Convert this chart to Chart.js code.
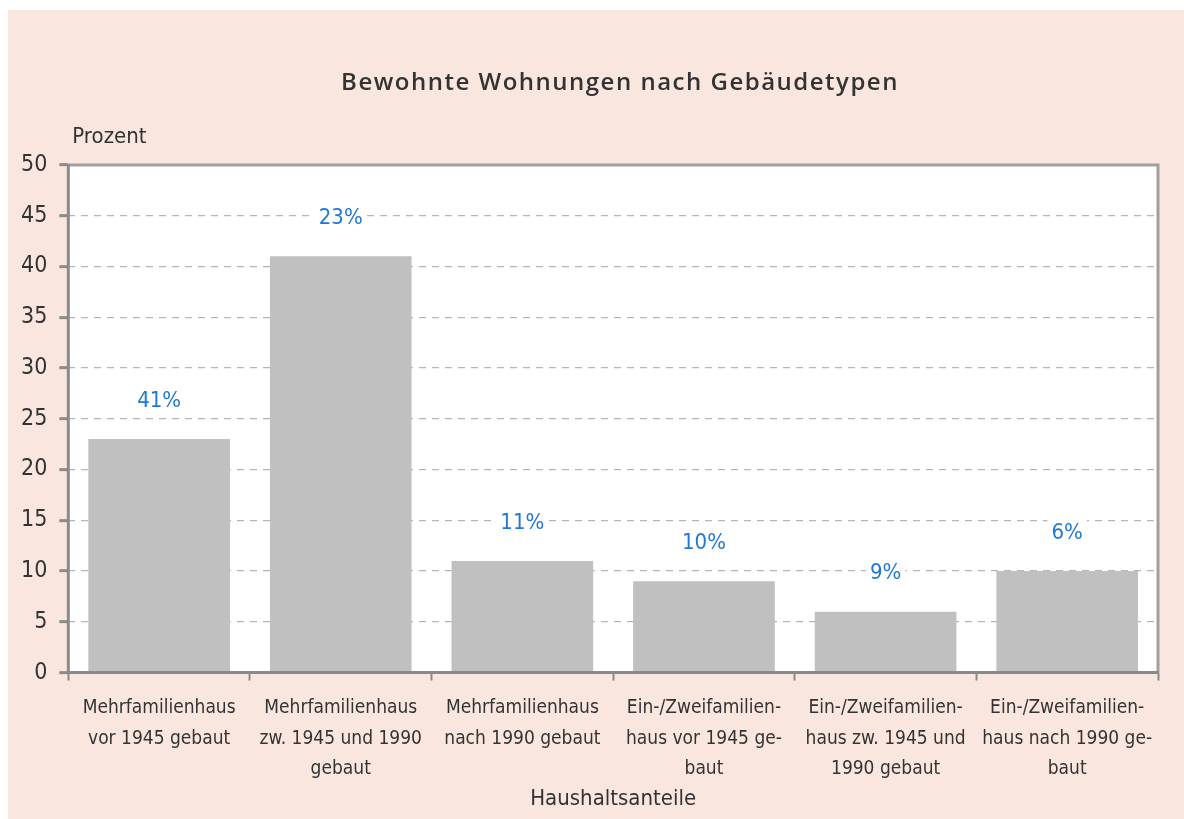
<!DOCTYPE html>
<html>
<head>
<meta charset="utf-8">
<script src="https://cdn.jsdelivr.net/npm/chart.js@4"></script>
<style>
body{margin:0;background:#fff;width:1184px;height:819px;overflow:hidden;position:relative;}
#box{position:absolute;left:8px;top:10px;width:1176px;height:809px;background:#f9e7df;}
canvas{display:block;}
</style>
</head>
<body>
<div id="box"><canvas id="grafico" width="1176" height="809"></canvas></div>
<script>
const titel = "Bewohnte Wohnungen nach Gebäudetypen";
const kategorien = [
["Mehrfamilienhaus","vor 1945 gebaut"],
["Mehrfamilienhaus","zw. 1945 und 1990","gebaut"],
["Mehrfamilienhaus","nach 1990 gebaut"],
["Ein-/Zweifamilien-","haus vor 1945 ge-","baut"],
["Ein-/Zweifamilien-","haus zw. 1945 und","1990 gebaut"],
["Ein-/Zweifamilien-","haus nach 1990 ge-","baut"]
];
const werte = [23, 41, 11, 9, 6, 10];
const beschriftung = ["41%", "23%", "11%", "10%", "9%", "6%"];

const schrift = "'Liberation Sans Narrow', 'DejaVu Sans Condensed', 'Roboto', sans-serif";

// weisser Plotbereich mit Rahmen, Titel
const hintergrund = {
id:"hintergrund",
beforeDraw(chart){
const a = chart.chartArea;
const ctx = chart.ctx;
ctx.save();
ctx.fillStyle = "#ffffff";
ctx.fillRect(a.left, a.top, a.right - a.left, a.bottom - a.top);
ctx.restore();
},
afterDraw(chart){
const a = chart.chartArea;
const ctx = chart.ctx;
ctx.save();
ctx.strokeStyle = "#a0a0a0";
ctx.lineWidth = 3;
ctx.beginPath();
ctx.moveTo(a.left, a.top);
ctx.lineTo(a.right, a.top);
ctx.lineTo(a.right, a.bottom);
ctx.stroke();
ctx.strokeStyle = "#8a8a8a";
ctx.beginPath();
ctx.moveTo(a.left, a.top - 1);
ctx.lineTo(a.left, a.bottom);
ctx.lineTo(a.right + 1, a.bottom);
ctx.stroke();
// Achsentitel oben links
ctx.fillStyle = "#333";
ctx.font = "22px " + schrift;
ctx.textAlign = "left";
ctx.textBaseline = "middle";
ctx.fillText("Prozent", a.left + 4, a.top - 28);
// Titel
ctx.font = "600 24px 'Open Sans', sans-serif";
ctx.letterSpacing = "1.5px";
ctx.textAlign = "center";
ctx.fillText(titel, 612, 73);
ctx.restore();
}
};

// Prozentwerte ueber den Balken
const werteText = {
id:"werteText",
afterDatasetsDraw(chart){
const ctx = chart.ctx;
const meta = chart.getDatasetMeta(0);
ctx.save();
ctx.font = "22px " + schrift;
ctx.textAlign = "center";
ctx.textBaseline = "middle";
meta.data.forEach((bar, i) => {
const y = bar.y - 38;
const w = ctx.measureText(beschriftung[i]).width;
ctx.fillStyle = "#ffffff";
ctx.fillRect(bar.x - w/2 - 4, y - 13, w + 8, 26);
ctx.fillStyle = "#1f78d4";
ctx.fillText(beschriftung[i], bar.x, y);
});
ctx.restore();
}
};

new Chart(document.getElementById("grafico"), {
type:"bar",
data:{
labels:kategorien,
datasets:[{
data:werte,
backgroundColor:"#c0c0c0",
borderWidth:0,
categoryPercentage:1,
barPercentage:0.78
}]
},
options:{
responsive:false,
animation:false,
layout:{padding:{left:1, right:26, top:155, bottom:7}},
plugins:{
legend:{display:false},
tooltip:{enabled:false},
title:{display:false}
},
scales:{
x:{
grid:{display:true, drawOnChartArea:false, drawTicks:true, tickLength:8, tickColor:"#8a8a8a", tickWidth:2},
border:{display:false},
ticks:{color:"#333", font:{family:schrift, size:19, lineHeight:1.58}, padding:13, maxRotation:0, autoSkip:false},
title:{display:true, text:"Haushaltsanteile", color:"#333", font:{family:schrift, size:22}, padding:{top:-11, bottom:0}}
},
y:{
min:0,
max:50,
ticks:{stepSize:5, color:"#333", font:{family:schrift, size:23}, padding:12},
grid:{color:"#b5b5b5", lineWidth:1.3, tickLength:9, tickColor:"#8a8a8a", tickWidth:3},
border:{display:false, dash:[7,6]}
}
}
},
plugins:[hintergrund, werteText]
});
</script>
</body>
</html>
